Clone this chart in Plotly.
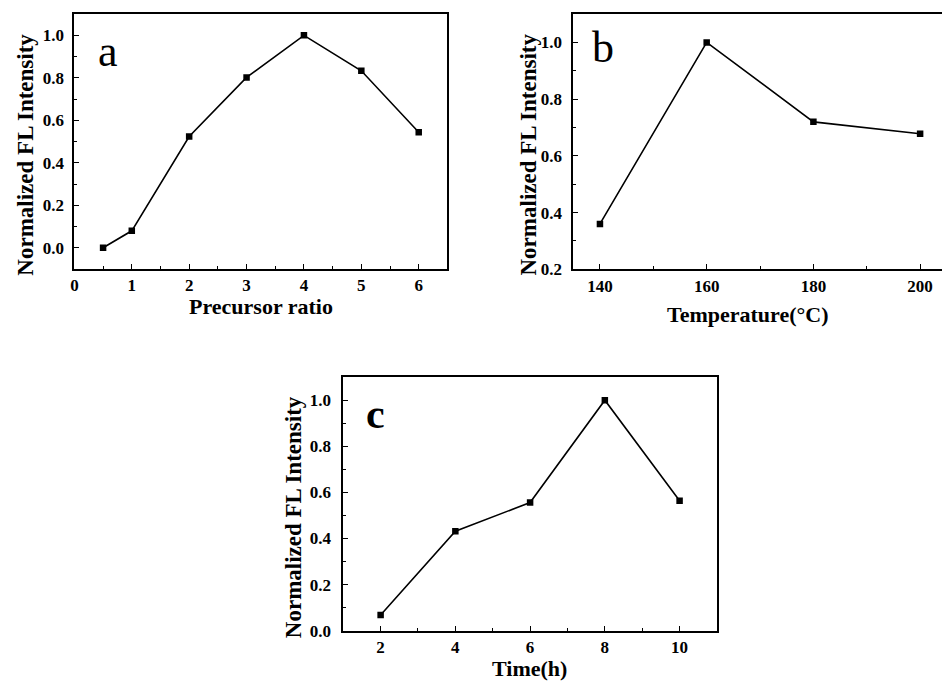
import plotly.graph_objects as go

# Panel a
ratio_x = [0.5, 1, 2, 3, 4, 5, 6]
ratio_y = [0.0, 0.08, 0.524, 0.802, 1.0, 0.833, 0.544]
# Panel b
temp_x = [140, 160, 180, 200]
temp_y = [0.36, 1.0, 0.72, 0.678]
# Panel c
time_x = [2, 4, 6, 8, 10]
time_y = [0.068, 0.432, 0.556, 1.0, 0.564]

W, H = 942, 691
FONT = "Liberation Serif"

def px_x(a, b):
    return [a / W, b / W]

def px_y(top, bottom):
    return [(H - bottom) / H, (H - top) / H]

fig = go.Figure()
line = dict(color="black", width=1.6)
marker = dict(symbol="square", size=6.5, color="black")
fig.add_trace(go.Scatter(x=ratio_x, y=ratio_y, mode="lines+markers", line=line, marker=marker, xaxis="x", yaxis="y"))
fig.add_trace(go.Scatter(x=temp_x, y=temp_y, mode="lines+markers", line=line, marker=marker, xaxis="x2", yaxis="y2"))
fig.add_trace(go.Scatter(x=time_x, y=time_y, mode="lines+markers", line=line, marker=marker, xaxis="x3", yaxis="y3"))

tickfont = dict(family=FONT, size=17, color="black", weight="bold")

def xax(domain, anchor, rng, dtick, minor_dtick, tick0=0):
    return dict(domain=domain, anchor=anchor, range=rng, tick0=tick0, dtick=dtick,
                showline=True, linecolor="black", linewidth=1.8, mirror=True,
                ticks="inside", ticklen=5, tickwidth=1.3, tickcolor="black",
                minor=dict(ticks="inside", ticklen=3, dtick=minor_dtick, tick0=tick0, tickcolor="black", tickwidth=1.2),
                showgrid=False, zeroline=False, tickfont=tickfont, ticklabelstandoff=0, fixedrange=True)

def yax(domain, anchor, rng, standoff, mirror=True):
    return dict(domain=domain, anchor=anchor, range=rng, tick0=0, dtick=0.2,
                showline=True, linecolor="black", linewidth=1.8, mirror=mirror,
                ticks="inside", ticklen=5, tickwidth=1.3, tickcolor="black",
                minor=dict(ticks="inside", ticklen=3, dtick=0.1, tick0=0, tickcolor="black", tickwidth=1.2),
                showgrid=False, zeroline=False, tickfont=tickfont, tickformat=".1f",
                ticklabelstandoff=standoff, fixedrange=True)

fig.update_layout(
    width=W, height=H, margin=dict(l=0, r=0, t=0, b=0),
    paper_bgcolor="white", plot_bgcolor="white", showlegend=False,
    xaxis=xax(px_x(70.7, 445.3), "y", [0, 6.5], 1, 0.5),
    yaxis=yax(px_y(14.3, 273), "x", [-0.1, 1.1], 5),
    xaxis2=xax(px_x(571.7, 942), "y2", [135, 204.1], 20, 10),
    yaxis2=yax(px_y(14.3, 273.3), "x2", [0.2, 1.1], 6, mirror=False),
    xaxis3=xax(px_x(340.7, 716), "y3", [1, 11], 2, 1),
    yaxis3=yax(px_y(382.7, 640), "x3", [0, 1.1], 7),
)

titlefont = dict(family=FONT, size=23, color="black", weight="bold")
xtitlefont = dict(family=FONT, size=22, color="black", weight="bold")
ann = []
def add_text(x, y, text, font, angle=0):
    ann.append(dict(x=x / W, y=(H - y) / H, xref="paper", yref="paper", text=text,
                    showarrow=False, font=font, textangle=angle, xanchor="center", yanchor="middle"))

# y titles
add_text(22, 157, "Normalized FL Intensity", titlefont, -90)
add_text(527, 157, "Normalized FL Intensity", titlefont, -90)
add_text(291, 525, "Normalized FL Intensity", titlefont, -90)
# x titles
add_text(258, 311, "Precursor ratio", xtitlefont)
add_text(747, 319, "Temperature(°C)", xtitlefont)
add_text(528, 678, "Time(h)", xtitlefont)
# panel letters
add_text(104, 52, "a", dict(family=FONT, size=44, color="black"))
add_text(602, 48, "b", dict(family=FONT, size=44, color="black"))
add_text(373, 420, "c", dict(family=FONT, size=42, color="black", weight="bold"))

fig.update_layout(annotations=ann)
fig.write_html("out.html")
